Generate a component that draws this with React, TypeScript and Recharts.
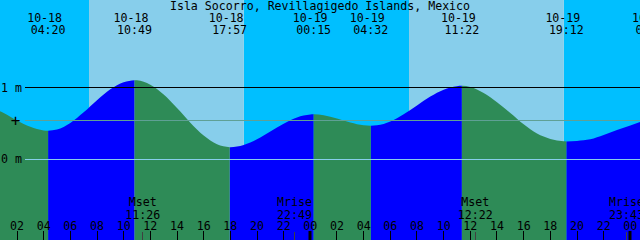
import { ComposedChart, Area, XAxis, YAxis, ReferenceArea, ReferenceLine, Customized } from "recharts";

const title = "Isla Socorro, Revillagigedo Islands, Mexico";

// water level (m), hours counted from 10-18 00:00
const curveHours = [
  0, 1, 2, 3, 4, 5, 6, 7, 8, 9, 10, 11, 12, 13, 14, 15, 16, 17, 18, 19, 20, 21, 22, 23, 24,
  25, 26, 27, 28, 29, 30, 31, 32, 33, 34, 35, 36, 37, 38, 39, 40, 41, 42, 43, 44, 45, 46, 47, 48, 49,
];
const curveLevels = [
  0.73, 0.65, 0.545, 0.455, 0.405, 0.418, 0.51, 0.658, 0.828, 0.981, 1.082, 1.108, 1.047, 0.909, 0.719,
  0.514, 0.333, 0.211, 0.17, 0.201, 0.28, 0.389, 0.5, 0.587, 0.628, 0.618, 0.573, 0.515, 0.476, 0.476,
  0.531, 0.632, 0.756, 0.88, 0.977, 1.026, 1.015, 0.93, 0.8, 0.65, 0.49, 0.36, 0.285, 0.252, 0.258,
  0.28, 0.34, 0.41, 0.475, 0.54,
];

// high / low tides
const tideDates = ["10-18", "10-18", "10-18", "10-19", "10-19", "10-19", "10-19", "10-20"];
const tideClock = ["04:20", "10:49", "17:57", "00:15", "04:32", "11:22", "19:12", "01:42"];
const tideKinds = ["L", "H", "L", "H", "L", "H", "L", "H"];
const tideLevels = [0.4, 1.11, 0.17, 0.63, 0.47, 1.03, 0.25, null];

const moonEvents = ["Mset", "Mrise", "Mset", "Mrise"];
const moonDates = ["10-18", "10-18", "10-19", "10-19"];
const moonClock = ["11:26", "22:49", "12:22", "23:43"];

const sunDates = ["10-18", "10-19"];
const sunrise = ["07:24", "07:24"];
const sunset = ["19:01", "19:01"];

const hourTicks = [2, 4, 6, 8, 10, 12, 14, 16, 18, 20, 22, 24, 26, 28, 30, 32, 34, 36, 38, 40, 42, 44, 46, 48];
const markLevels = [1, 0];
const meanLevel = 0.55;

const startHour = 0.725;
const endHour = 48.725;
const levelMin = -1.132;
const levelMax = 2.234;

const dayStart: Record<string, number> = { "10-18": 0, "10-19": 24, "10-20": 48 };
const toHour = (date: string, clock: string) => {
  const [h, m] = clock.split(":").map(Number);
  return dayStart[date] + h + m / 60;
};

const tideHours = tideDates.map((d, i) => toHour(d, tideClock[i]));
const moonHours = moonDates.map((d, i) => toHour(d, moonClock[i]));
const riseHours = sunDates.map((d, i) => toHour(d, sunrise[i]));
const setHours = sunDates.map((d, i) => toHour(d, sunset[i]));

const points = [
  ...curveHours.map((t, i) => ({ t, level: curveLevels[i] })),
  ...tideHours.map((t, i) => ({ t, level: tideLevels[i] })).filter((p) => p.level != null),
].sort((a, b) => a.t - b.t);

// split the curve into rising (flood) and falling (ebb) stretches
const rows = points.map((p) => {
  const isExtreme = tideHours.some((h) => Math.abs(h - p.t) < 1e-6);
  let prev = -1;
  tideHours.forEach((h, i) => {
    if (h <= p.t + 1e-6) prev = i;
  });
  const rising = prev >= 0 ? tideKinds[prev] === "L" : tideKinds[0] === "H";
  return {
    t: p.t,
    flood: rising || isExtreme ? p.level : null,
    ebb: !rising || isExtreme ? p.level : null,
  };
});

const nightBands = [
  [startHour - 1, riseHours[0]],
  [setHours[0], riseHours[1]],
  [setHours[1], endHour + 1],
];
const dayBands = riseHours.map((r, i) => [r, setHours[i]]);

const FONT = "'DejaVu Sans Mono', monospace";
const FS = 11.6;
const H = 240;

const crisp = (v: number) => Math.floor(v) + 0.5;

const levelLine = (p: any) => (
  <line x1={p.x1 + 25} x2={p.x2} y1={crisp(p.y1)} y2={crisp(p.y2)} stroke={p.stroke} strokeWidth={1} />
);

export default function App() {
  return (
    <div style={{ position: "absolute", left: 0, top: 0, width: 640, height: H }}>
      <ComposedChart width={640} height={H} data={rows} margin={{ top: 0, right: 0, bottom: 0, left: 0 }}>
        <XAxis dataKey="t" type="number" domain={[startHour, endHour]} allowDataOverflow hide />
        <YAxis type="number" domain={[levelMin, levelMax]} allowDataOverflow hide />
        {nightBands.map(([a, b], i) => (
          <ReferenceArea key={`n${i}`} x1={a} x2={b} y1={levelMin} y2={levelMax} fill="#00BFFF" fillOpacity={1} stroke="none" ifOverflow="hidden" zIndex={-200} />
        ))}
        {dayBands.map(([a, b], i) => (
          <ReferenceArea key={`d${i}`} x1={a} x2={b} y1={levelMin} y2={levelMax} fill="#87CEEB" fillOpacity={1} stroke="none" ifOverflow="hidden" zIndex={-150} />
        ))}
        <Area type="monotone" dataKey="flood" stroke="none" fill="#0000FF" fillOpacity={1} baseValue="dataMin" isAnimationActive={false} dot={false} activeDot={false} />
        <Area type="monotone" dataKey="ebb" stroke="none" fill="#2E8B57" fillOpacity={1} baseValue="dataMin" isAnimationActive={false} dot={false} activeDot={false} />
        {markLevels.map((lv) => (
          <ReferenceLine
            key={`m${lv}`}
            y={lv}
            stroke={lv === 0 ? "#87CEEB" : "#000"}
            ifOverflow="visible"
            zIndex={600}
            shape={levelLine}
            label={(p: any) => (
              <text x={1} y={p.viewBox.y + 4} fontFamily={FONT} fontSize={FS} fill="#000">
                {`${lv} m`}
              </text>
            )}
          />
        ))}
        <ReferenceLine
          y={meanLevel}
          stroke="#5FA095"
          ifOverflow="visible"
          zIndex={600}
          shape={levelLine}
          label={(p: any) => (
            <text x={15.5} y={p.viewBox.y + 5.5} textAnchor="middle" fontFamily={FONT} fontSize={16} fill="#000">
              +
            </text>
          )}
        />
        {hourTicks.map((h) => (
          <ReferenceLine
            key={`h${h}`}
            x={h}
            stroke="none"
            ifOverflow="visible"
            zIndex={600}
            label={(p: any) => {
              const x = p.viewBox.x;
              return (
                <g>
                  <text x={x} y={229.5} textAnchor="middle" fontFamily={FONT} fontSize={FS} fill="#000">
                    {String(h % 24).padStart(2, "0")}
                  </text>
                  {h % 24 === 0 ? (
                    <rect x={Math.round(x) - 1.5} y={231} width={3} height={H - 231} fill="#000" />
                  ) : (
                    <line x1={crisp(x)} x2={crisp(x)} y1={231} y2={H} stroke="#000" />
                  )}
                </g>
              );
            }}
          />
        ))}
        {tideHours.map((h, i) => (
          <ReferenceLine
            key={`t${i}`}
            x={h}
            stroke="none"
            ifOverflow="visible"
            zIndex={600}
            label={(p: any) => (
              <g>
                <text x={p.viewBox.x - 3.5} y={22} textAnchor="middle" fontFamily={FONT} fontSize={FS} fill="#000">
                  {tideDates[i]}
                </text>
                <text x={p.viewBox.x} y={33.5} textAnchor="middle" fontFamily={FONT} fontSize={FS} fill="#000">
                  {tideClock[i]}
                </text>
              </g>
            )}
          />
        ))}
        {moonHours.map((h, i) => (
          <ReferenceLine
            key={`mo${i}`}
            x={h}
            stroke="none"
            ifOverflow="visible"
            zIndex={600}
            label={(p: any) => (
              <g>
                <text x={p.viewBox.x} y={206} textAnchor="middle" fontFamily={FONT} fontSize={FS} fill="#000">
                  {moonEvents[i]}
                </text>
                <text x={p.viewBox.x} y={218.5} textAnchor="middle" fontFamily={FONT} fontSize={FS} fill="#000">
                  {moonClock[i]}
                </text>
                <line x1={crisp(p.viewBox.x)} x2={crisp(p.viewBox.x)} y1={232} y2={H} stroke="#404040" />
              </g>
            )}
          />
        ))}
        <Customized
          component={() => (
            <text x={320} y={10} textAnchor="middle" fontFamily={FONT} fontSize={FS} fill="#000">
              {title}
            </text>
          )}
        />
      </ComposedChart>
    </div>
  );
}
